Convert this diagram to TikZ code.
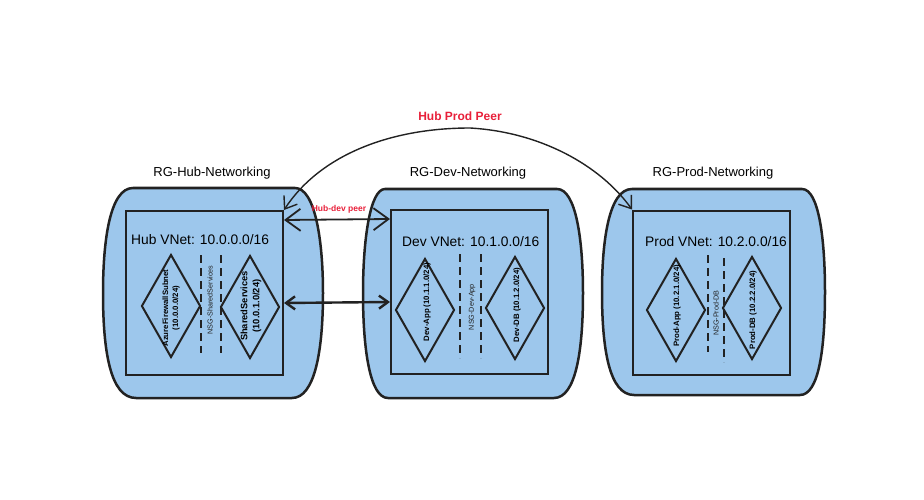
\documentclass[tikz,border=0pt]{standalone}
\usepackage{fontspec}
\setmainfont{Liberation Sans}
\usetikzlibrary{shapes.geometric,arrows.meta}
\definecolor{rgblue}{RGB}{157,199,236}
\definecolor{inkline}{RGB}{34,34,34}
\definecolor{peerred}{RGB}{232,32,58}
\tikzset{
	rg/.style={draw=inkline, fill=rgblue, line width=2.5pt},
	vnet/.style={draw=inkline, rectangle, line width=2pt, minimum width=157pt, minimum height=164pt, inner sep=0pt},
	subnet/.style={draw=inkline, diamond, line width=2pt, minimum width=59pt, minimum height=103pt, inner sep=0pt},
	nsgline/.style={draw=inkline, line width=2.5pt, dash pattern=on 8pt off 5pt},
	nsgtext/.style={rotate=90, inner sep=0pt, text=inkline, font=\fontsize{7.2}{8}\selectfont},
	subtext/.style={rotate=90, inner sep=0pt, align=center, font=\bfseries\fontsize{7.8}{10}\selectfont},
	vnettitle/.style={anchor=west, inner sep=0pt, font=\fontsize{13.8}{15}\selectfont},
	rglabel/.style={inner sep=0pt, font=\fontsize{13}{14}\selectfont},
	peertext/.style={inner sep=0pt, text=peerred, font=\bfseries\fontsize{8.5}{10}\selectfont}
}
\begin{document}
\begin{tikzpicture}[x=1pt, y=-1pt]
	\useasboundingbox (0,0) rectangle (924,500);

	% resource groups
	\draw[rg] (133,188) -- (295,188) .. controls (315,188) and (323,240) .. (323,293) .. controls (323,350) and (315,398) .. (292,398) -- (136,398) .. controls (110,398) and (103,350) .. (103,293) .. controls (103,240) and (110,188) .. (133,188) -- cycle;
	\draw[rg] (385,189) -- (557,189) .. controls (576,189) and (583,240) .. (583,293) .. controls (583,350) and (576,398) .. (554,398) -- (388,398) .. controls (370,398) and (363,350) .. (363,293) .. controls (363,240) and (370,189) .. (385,189) -- cycle;
	\draw[rg] (632,189) -- (802,189) .. controls (819,189) and (825,240) .. (825,292) .. controls (825,348) and (819,395) .. (800,395) -- (634,395) .. controls (609,395) and (602,348) .. (602,292) .. controls (602,240) and (609,189) .. (632,189) -- cycle;

	\node[rglabel] (hubrg) at (212,173) {RG-Hub-Networking};
	\node[rglabel] (devrg) at (468,173) {RG-Dev-Networking};
	\node[rglabel] (prodrg) at (713,173) {RG-Prod-Networking};

	% vnets
	\node[vnet] (hubvnet) at (204.5,293) {};
	\node[vnet] (devvnet) at (469.5,292) {};
	\node[vnet] (prodvnet) at (711.5,292.5) {};

	\node[vnettitle] (hubtitle) at (131,240) {Hub VNet: 10.0.0.0/16};
	\node[vnettitle] (devtitle) at (402,242) {Dev VNet: 10.1.0.0/16};
	\node[vnettitle] (prodtitle) at (645,242) {Prod VNet: 10.2.0.0/16};

	% subnets
	\node[subnet] (azfw) at (171,306) {};
	\node[subnet] (shared) at (250,307) {};
	\node[subnet] (devapp) at (425,310) {};
	\node[subnet] (devdb) at (515,308) {};
	\node[subnet] (prodapp) at (676,310) {};
	\node[subnet] (proddb) at (752,308) {};

	\node[subtext] at (171,308) {AzureFirewallSubnet\\(10.0.0.0/24)};
	\node[subtext, font=\bfseries\fontsize{9.3}{12}\selectfont] at (251,306) {SharedServices\\(10.0.1.0/24)};
	\node[subtext] at (427,302) {Dev-App (10.1.1.0/24)};
	\node[subtext] at (517,305) {Dev-DB (10.1.2.0/24)};
	\node[subtext] at (677,306) {Prod-App (10.2.1.0/24)};
	\node[subtext] at (753,310) {Prod-DB (10.2.2.0/24)};

	% nsgs
	\draw[nsgline] (201,255) -- (201,353);
	\draw[nsgline] (221,255) -- (221,353);
	\draw[nsgline] (460,254) -- (460,358);
	\draw[nsgline] (481,254) -- (481,358);
	\draw[nsgline] (708,255) -- (708,352);
	\draw[nsgline] (724,258) -- (724,362);

	\node[nsgtext] at (210,300) {NSG-SharedServices};
	\node[nsgtext] at (472,307) {NSG-Dev-App};
	\node[nsgtext] at (716,313) {NSG-Prod-DB};

	% peerings
	\draw[draw=inkline, line width=1.8pt, {Straight Barb[length=15pt,width=22pt]}-{Straight Barb[length=15pt,width=22pt]}] ([yshift=-10pt]hubvnet.north east) -- ([yshift=-10pt]devvnet.north west);
	\node[peertext] (hubdev) at (339,209) {Hub-dev peer};

	\draw[draw=inkline, line width=2.4pt, {Straight Barb[length=9pt,width=13pt]}-{Straight Barb[length=9pt,width=13pt]}] ([yshift=-10pt]hubvnet.east) -- ([yshift=-10pt]devvnet.west);

	\coordinate (peertop) at (470,128);
	\draw[draw=inkline, line width=1.4pt, {Straight Barb[length=11pt,width=16pt]}-{Straight Barb[length=11pt,width=16pt]}] (hubvnet.north east) .. controls (320,155) and (390,128) .. (peertop) .. controls (540,132) and (600,165) .. (prodvnet.north west);
	\node[peertext, font=\bfseries\fontsize{12}{14}\selectfont] (hubprod) at (460,116) {Hub Prod Peer};
\end{tikzpicture}
\end{document}
